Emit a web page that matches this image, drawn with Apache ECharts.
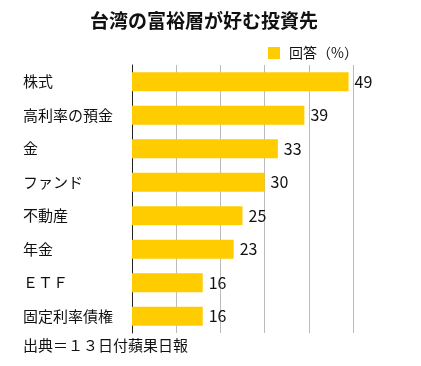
<!DOCTYPE html>
<html><head><meta charset="utf-8">
<script src="https://cdn.jsdelivr.net/npm/echarts@6/dist/echarts.min.js"></script>
<style>html,body{margin:0;padding:0;background:#fff}#c{width:421px;height:366px}</style>
</head><body><div id="c"></div>
<script>
const categories = ['株式','高利率の預金','金','ファンド','不動産','年金','ＥＴＦ','固定利率債権'];
const values = [49,39,33,30,25,23,16,16];
const seriesName = '回答（%）';
const titleText = '台湾の富裕層が好む投資先';
const sourceText = '出典＝１３日付蘋果日報';
const FONT = '"Noto Sans CJK JP", "Noto Sans", sans-serif';

const chart = echarts.init(document.getElementById('c'));
chart.setOption({
  animation: false,
  backgroundColor: '#fff',
  textStyle: {fontFamily: FONT},
  title: {
    text: titleText, left: 199, top: 6, textAlign: 'center',
    textStyle: {fontSize: 19, fontWeight: 'bold', color: '#111', fontFamily: FONT}
  },
  legend: {
    data: [seriesName], left: 263, top: 41, itemWidth: 12, itemHeight: 12, itemGap: 10,
    icon: 'rect',
    textStyle: {fontSize: 14, color: '#111', fontFamily: FONT, padding: [0,0,0,4]}
  },
  grid: {left: 132, right: 68, top: 65, bottom: 33},
  xAxis: {
    type: 'value', min: 0, max: 50, interval: 10,
    axisLabel: {show: false}, axisLine: {show: false}, axisTick: {show: false},
    splitLine: {lineStyle: {color: '#bbbbbb', width: 1}}
  },
  yAxis: {
    type: 'category', data: categories, inverse: true,
    axisLine: {show: true, lineStyle: {color: '#222', width: 1}},
    axisTick: {show: false},
    axisLabel: {align: 'left', margin: 109, fontSize: 15, color: '#111', fontFamily: FONT}
  },
  series: [{
    name: seriesName, type: 'bar', data: values, barCategoryGap: '43%',
    itemStyle: {color: '#FFCC00'},
    label: {show: true, position: 'right', distance: 6, fontSize: 16, color: '#111', fontFamily: FONT}
  }],
  graphic: [{
    type: 'text', left: 23, top: 338,
    style: {text: sourceText, fontSize: 15, fill: '#111', fontFamily: FONT}
  }]
});
</script></body></html>
